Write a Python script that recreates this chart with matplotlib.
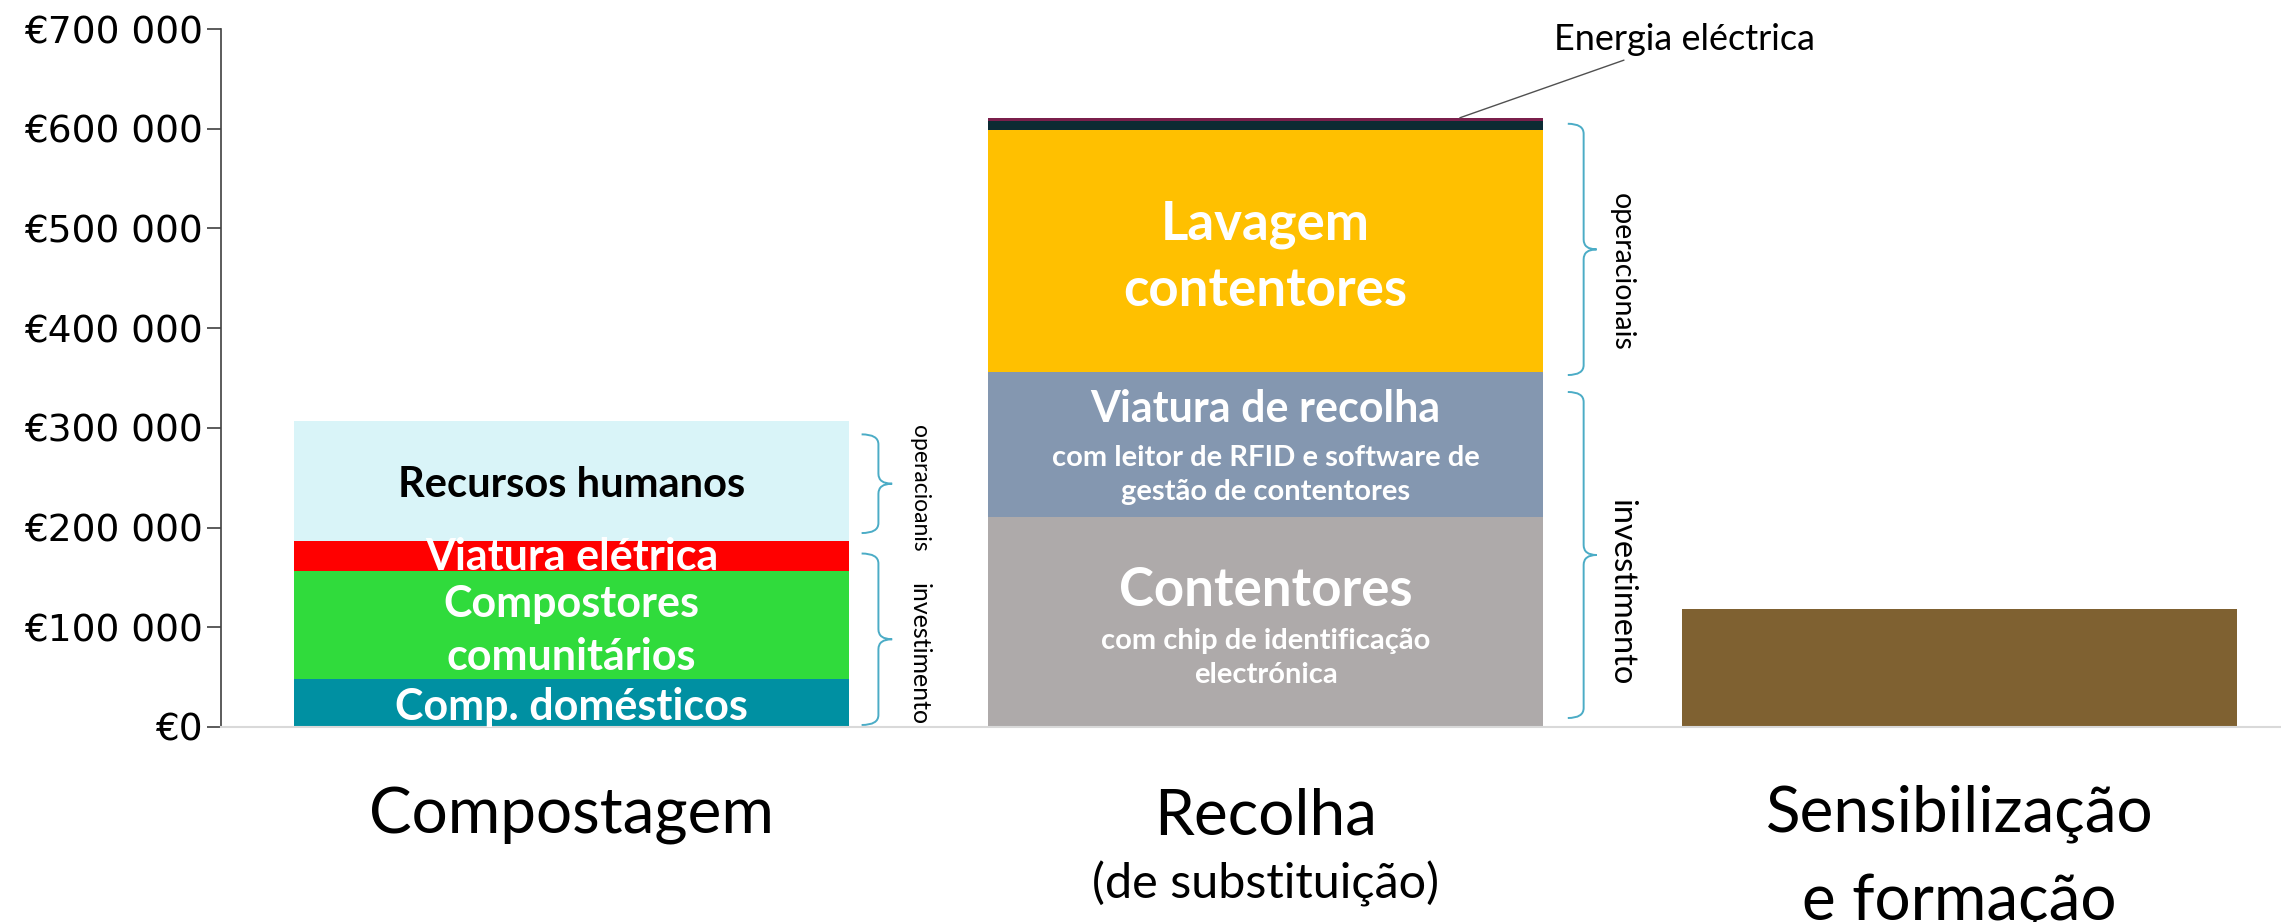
import matplotlib.pyplot as plt
from matplotlib.path import Path
from matplotlib.patches import PathPatch
from matplotlib.ticker import FuncFormatter

# data
categories = ["Compostagem", "Recolha", "Sensibilização"]

compost_parts = ["Comp. domésticos", "Compostores\ncomunitários", "Viatura elétrica", "Recursos humanos"]
compost_vals = [48000, 108000, 30500, 120000]
compost_colors = ["#0090a2", "#30db3c", "#ff0000", "#d9f4f8"]

recolha_parts = ["Contentores", "Viatura de recolha", "Lavagem\ncontentores", "Outros", "Energia eléctrica"]
recolha_vals = [211000, 145000, 243000, 9000, 3000]
recolha_colors = ["#aeaaaa", "#8497b0", "#ffc000", "#0c2b33", "#7a1f4b"]

sensib_vals = [118000]
sensib_colors = ["#7f6131"]

yticks = [0, 100000, 200000, 300000, 400000, 500000, 600000, 700000]

LAB = "Lato"
W = 0.8

fig = plt.figure(figsize=(22.81, 9.22), dpi=100)
ax = fig.add_axes([0.0969, 0.2115, 0.9128, 0.757])


def stack(x, vals, colors):
    bottom = 0
    bots = []
    for v, c in zip(vals, colors):
        ax.bar(x, v, W, bottom=bottom, color=c, linewidth=0)
        bots.append(bottom)
        bottom += v
    return bots


cb = stack(0, compost_vals, compost_colors)
rb = stack(1, recolha_vals, recolha_colors)
stack(2, sensib_vals, sensib_colors)

# labels inside Compostagem
ax.text(0, cb[0] + 20000, compost_parts[0], ha="center", va="center",
        color="white", fontsize=31, fontweight="bold", family=LAB)
ax.text(0, cb[1] + 49000, compost_parts[1], ha="center", va="center",
        color="white", fontsize=31, fontweight="bold", family=LAB, linespacing=1.4)
ax.text(0, cb[2] + 14500, compost_parts[2], ha="center", va="center",
        color="white", fontsize=31, fontweight="bold", family=LAB)
ax.text(0, cb[3] + 56000, compost_parts[3], ha="center", va="center",
        color="black", fontsize=30, fontweight="bold", family=LAB)

# labels inside Recolha
ax.text(1, rb[0] + 137000, recolha_parts[0], ha="center", va="center",
        color="white", fontsize=38, fontweight="bold", family=LAB)
ax.text(1, rb[0] + 69000, "com chip de identificação\nelectrónica", ha="center", va="center",
        color="white", fontsize=21, fontweight="bold", family=LAB, linespacing=1.4)
ax.text(1, rb[1] + 108000, recolha_parts[1], ha="center", va="center",
        color="white", fontsize=31, fontweight="bold", family=LAB)
ax.text(1, rb[1] + 42000, "com leitor de RFID e software de\ngestão de contentores", ha="center",
        va="center", color="white", fontsize=21, fontweight="bold", family=LAB, linespacing=1.4)
ax.text(1, rb[2] + 115000, recolha_parts[2], ha="center", va="center",
        color="white", fontsize=38, fontweight="bold", family=LAB, linespacing=1.42)

# Energia eléctrica callout
top_r = sum(recolha_vals)
ax.annotate(recolha_parts[4], xy=(1.28, top_r), xytext=(1.415, 690000),
            ha="left", va="center", fontsize=26, family=LAB,
            arrowprops=dict(arrowstyle="-", color="#505050", lw=1, shrinkA=4, shrinkB=0))


# curly braces
def brace(x0, x1, y0, y1, color="#4bacc6"):
    xm = x0 + (x1 - x0) * 0.55
    ym = (y0 + y1) / 2
    r = min(10000, (y1 - y0) / 4)
    verts = [(x0, y1), (xm, y1), (xm, y1 - r), (xm, ym + r), (xm, ym), (x1, ym),
             (xm, ym), (xm, ym - r), (xm, y0 + r), (xm, y0), (x0, y0)]
    codes = [Path.MOVETO, Path.CURVE3, Path.CURVE3, Path.LINETO, Path.CURVE3, Path.CURVE3,
             Path.CURVE3, Path.CURVE3, Path.LINETO, Path.CURVE3, Path.CURVE3]
    ax.add_patch(PathPatch(Path(verts, codes), fill=False, edgecolor=color, lw=1.4))


c_inv = sum(compost_vals[:3])
c_tot = sum(compost_vals)
brace(0.418, 0.462, c_inv + 8000, c_tot - 13000)
brace(0.418, 0.462, 2000, c_inv - 12500)
ax.text(0.501, 239500, "operacioanis", rotation=-90, ha="center", va="center",
        fontsize=16.5, family=LAB)
ax.text(0.501, 73600, "investimento", rotation=-90, ha="center", va="center",
        fontsize=18, family=LAB)

r_inv = sum(recolha_vals[:2])
brace(1.4355, 1.477, r_inv - 3000, top_r - 6000)
brace(1.4355, 1.477, 9000, r_inv - 20000)
ax.text(1.513, 456000, "operacionais", rotation=-90, ha="center", va="center",
        fontsize=20.5, family=LAB)
ax.text(1.513, 135000, "investimento", rotation=-90, ha="center", va="center",
        fontsize=23.5, family=LAB)

# category labels
tr = ax.get_xaxis_transform()
ax.text(0, -0.128, categories[0], transform=tr, ha="center", va="center", fontsize=46, family=LAB)
ax.text(1, -0.128, categories[1], transform=tr, ha="center", va="center", fontsize=46, family=LAB)
ax.text(1, -0.225, "(de substituição)", transform=tr, ha="center", va="center", fontsize=35,
        family=LAB)
ax.text(2, -0.125, categories[2], transform=tr, ha="center", va="center", fontsize=46, family=LAB)
ax.text(2, -0.252, "e formação", transform=tr, ha="center", va="center", fontsize=46, family=LAB)

# axes
ax.set_xlim(-0.505, 2.495)
ax.set_ylim(0, 700000)
ax.set_yticks(yticks)
ax.yaxis.set_major_formatter(FuncFormatter(lambda v, p: "€" + f"{int(v):,}".replace(",", " ")))
ax.tick_params(axis="y", labelsize=27, length=10, width=1.2, color="#404040", pad=3)
ax.set_xticks([])
for s in ["top", "right"]:
    ax.spines[s].set_visible(False)
ax.spines["left"].set_color("#404040")
ax.spines["left"].set_linewidth(1.2)
ax.spines["bottom"].set_color("#d9d9d9")
ax.spines["bottom"].set_linewidth(1.5)

fig.savefig("out.png", dpi=100)
